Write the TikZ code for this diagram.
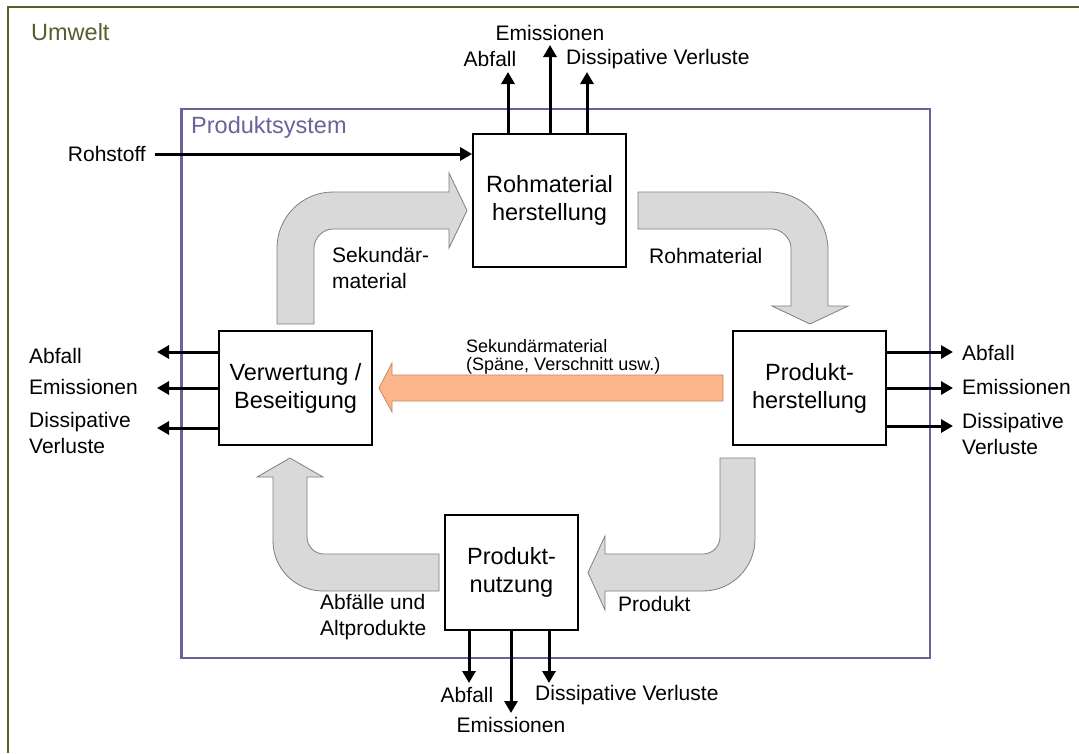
\documentclass[tikz,border=0pt]{standalone}
\usepackage{fontspec}
\setmainfont{Liberation Sans}
\usetikzlibrary{arrows.meta}
\definecolor{umweltcol}{HTML}{56602E}
\definecolor{psyscol}{HTML}{68639A}
\definecolor{bandfill}{HTML}{D9D9D9}
\definecolor{banddraw}{HTML}{7F7F7F}
\definecolor{recfill}{HTML}{FBB68C}
\definecolor{recdraw}{HTML}{C8875F}
\tikzset{
  procbox/.style={draw=black, line width=1.8pt, fill=white, align=center, inner sep=0pt,
    font=\fontsize{23.5}{28}\selectfont},
  flow/.style={line width=3pt, -{Triangle[length=12pt,width=13pt]}},
  lbl/.style={inner sep=0pt, align=left, font=\fontsize{21}{26}\selectfont},
  smalllbl/.style={inner sep=0pt, align=left, font=\fontsize{18}{18}\selectfont},
  band/.style={fill=bandfill, draw=banddraw, line width=0.8pt, line join=miter},
  recband/.style={fill=recfill, draw=recdraw, line width=0.8pt, line join=miter},
}
\begin{document}
\begin{tikzpicture}[x=1pt, y=-1pt]
\useasboundingbox (0,0) rectangle (1079,753);
\fill[white] (0,0) rectangle (1079,753);

% environment frame (open to the right and bottom)
\draw[umweltcol, line width=2.5pt] (1079,7) -- (8,7) -- (8,753);
\node[anchor=west, inner sep=0pt, text=umweltcol, font=\fontsize{23.5}{28}\selectfont] (umwelt) at (31,32) {Umwelt};

% product system frame
\draw[psyscol, line width=2.2pt] (181.5,109) rectangle (930,658);
\node[anchor=west, inner sep=0pt, text=psyscol, font=\fontsize{23.5}{28}\selectfont] (psys) at (191,127) {Produktsystem};

% broad bent flow bands
\path[band] (277,324) -- (277,248) .. controls (277,217.1) and (302.1,192) .. (333,192)
  -- (449,192) -- (449,173) -- (467,210.5) -- (449,248) -- (449,229) -- (333,229)
  .. controls (322.5,229) and (314,238.5) .. (314,248) -- (314,324) -- cycle;
\path[band] (638,192) -- (770,192) .. controls (802,192) and (828,218) .. (828,250)
  -- (828,306) -- (848,306) -- (810,324) -- (772,306) -- (791,306) -- (791,248)
  .. controls (791,237.5) and (780.5,229) .. (772,229) -- (638,229) -- cycle;
\path[band] (720,458) -- (755,458) -- (755,539) .. controls (755,567.7) and (731.7,591) .. (703,591)
  -- (605,591) -- (605,610) -- (588,572.5) -- (605,536) -- (605,554) -- (703,554)
  .. controls (712.4,554) and (720,546.4) .. (720,537) -- cycle;
\path[band] (439,554) -- (439,591) -- (323,591) .. controls (295.4,591) and (273,568.6) .. (273,541)
  -- (273,477) -- (257,477) -- (290,458) -- (323,477) -- (307,477) -- (307,537)
  .. controls (307,546.4) and (314.6,554) .. (324,554) -- cycle;

% straight recycling band
\path[recband] (723,375) -- (723,401) -- (392,401) -- (392,412) -- (379,388) -- (392,363) -- (392,375) -- cycle;

% process boxes
\node[procbox, minimum width=153pt, minimum height=133pt] (roh) at (549.5,200.5) {Rohmaterial\\herstellung};
\node[procbox, minimum width=153pt, minimum height=114pt] (ver) at (295.5,388) {Verwertung /\\Beseitigung};
\node[procbox, minimum width=153pt, minimum height=114pt] (prh) at (809.5,388) {Produkt-\\herstellung};
\node[procbox, minimum width=133pt, minimum height=115pt] (nut) at (511.5,572.5) {Produkt-\\nutzung};

% band labels
\node[lbl, anchor=west] (seklbl) at (332,267.5) {Sekundär-\\material};
\node[lbl, anchor=west] (rohlbl) at (649,256) {Rohmaterial};
\node[lbl, anchor=west] (altlbl) at (320,617.5) {Abfälle und\\Altprodukte};
\node[lbl, anchor=west] (prodlbl) at (618,604) {Produkt};
\node[smalllbl, anchor=west] (reclbl) at (466,357) {Sekundärmaterial\\(Späne, Verschnitt usw.)};

% raw material input
\node[lbl, anchor=east] (rohstoff) at (146,154) {Rohstoff};
\coordinate (rs) at (155,154);
\draw[flow] (rs) -- (rs -| roh.west);

% outputs of raw material production
\coordinate (ta) at (508,72);
\coordinate (te) at (550,45);
\coordinate (td) at (587,72);
\draw[flow] (roh.north -| ta) -- (ta);
\draw[flow] (roh.north -| te) -- (te);
\draw[flow] (roh.north -| td) -- (td);
\node[lbl] (taL) at (490,59) {Abfall};
\node[lbl] (teL) at (550,33) {Emissionen};
\node[lbl, anchor=west] (tdL) at (566,59) {Dissipative Verluste};

% outputs of recovery / disposal
\coordinate (la) at (157,352);
\coordinate (le) at (157,388);
\coordinate (ld) at (157,428);
\draw[flow] (ver.west |- la) -- (la);
\draw[flow] (ver.west |- le) -- (le);
\draw[flow] (ver.west |- ld) -- (ld);
\node[lbl, anchor=west] (laL) at (29,356) {Abfall};
\node[lbl, anchor=west] (leL) at (29,387) {Emissionen};
\node[lbl, anchor=west] (ldL) at (29,433) {Dissipative\\Verluste};

% outputs of product manufacturing
\coordinate (ra) at (953,352);
\coordinate (re) at (953,388);
\coordinate (rd) at (953,426);
\draw[flow] (prh.east |- ra) -- (ra);
\draw[flow] (prh.east |- re) -- (re);
\draw[flow] (prh.east |- rd) -- (rd);
\node[lbl, anchor=west] (raL) at (962,353) {Abfall};
\node[lbl, anchor=west] (reL) at (962,387) {Emissionen};
\node[lbl, anchor=west] (rdL) at (962,434) {Dissipative\\Verluste};

% outputs of product use
\coordinate (ba) at (469,683);
\coordinate (be) at (511,713);
\coordinate (bd) at (549,683);
\draw[flow] (nut.south -| ba) -- (ba);
\draw[flow] (nut.south -| be) -- (be);
\draw[flow] (nut.south -| bd) -- (bd);
\node[lbl] (baL) at (467,695) {Abfall};
\node[lbl] (beL) at (511,725) {Emissionen};
\node[lbl, anchor=west] (bdL) at (535,695) {Dissipative Verluste};
\end{tikzpicture}
\end{document}
